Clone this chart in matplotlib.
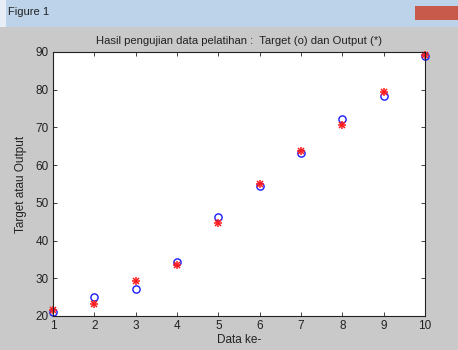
import matplotlib.pyplot as plt
from matplotlib.patches import Rectangle

# data
data_ke = [1, 2, 3, 4, 5, 6, 7, 8, 9, 10]
target = [21.1, 25.0, 27.1, 34.2, 46.2, 54.5, 63.3, 72.3, 78.4, 89.0]
output = [21.5, 23.2, 29.4, 33.4, 44.7, 54.9, 63.8, 70.6, 79.3, 89.1]

plt.rcParams['font.family'] = ['Liberation Sans', 'DejaVu Sans']

W, H = 458, 350
fig = plt.figure(figsize=(W / 100, H / 100), dpi=100)
fig.patch.set_facecolor('#c9c9c9')

# window title bar (screenshot chrome)
fig.add_artist(Rectangle((0, 1 - 27 / H), 1, 27 / H, transform=fig.transFigure,
                         facecolor='#bcd3ea', edgecolor='none'))
fig.add_artist(Rectangle((0, 1 - 27 / H), 6 / W, 27 / H, transform=fig.transFigure,
                         facecolor='#e8eef5', edgecolor='none'))
fig.add_artist(Rectangle((415 / W, 1 - 20 / H), 43 / W, 14 / H, transform=fig.transFigure,
                         facecolor='#c75a4a', edgecolor='none'))
fig.text(8 / W, 1 - 12 / H, 'Figure 1', fontsize=8, va='center', ha='left', color='#222222')

ax = fig.add_axes([53 / W, 34 / H, 372 / W, 264 / H])
ax.plot(data_ke, target, 'o', mfc='none', mec='#1a1aff', ms=5.2, mew=1.0, clip_on=False)
# matlab style asterisk = plus + cross
ax.plot(data_ke, output, '+', color='#ff1a1a', ms=5.5, mew=1.1, clip_on=False)
ax.plot(data_ke, output, 'x', color='#ff1a1a', ms=4.2, mew=1.1, clip_on=False)

ax.set_xlim(1, 10)
ax.set_ylim(20, 90)
ax.set_xticks(data_ke)
ax.set_yticks(range(20, 91, 10))
ax.tick_params(direction='in', top=True, right=True, length=3, width=0.6,
               labelsize=8.5, pad=3, colors='#222222')
for s in ax.spines.values():
    s.set_linewidth(0.8)
    s.set_color('#222222')

ax.set_title('Hasil pengujian data pelatihan :  Target (o) dan Output (*)',
             fontsize=8.1, pad=6, color='#222222')
ax.set_xlabel('Data ke-', fontsize=8.5, labelpad=1, color='#222222')
ax.set_ylabel('Target atau Output', fontsize=8.5, labelpad=6, color='#222222')

fig.savefig('out.png', dpi=100, facecolor=fig.get_facecolor())
